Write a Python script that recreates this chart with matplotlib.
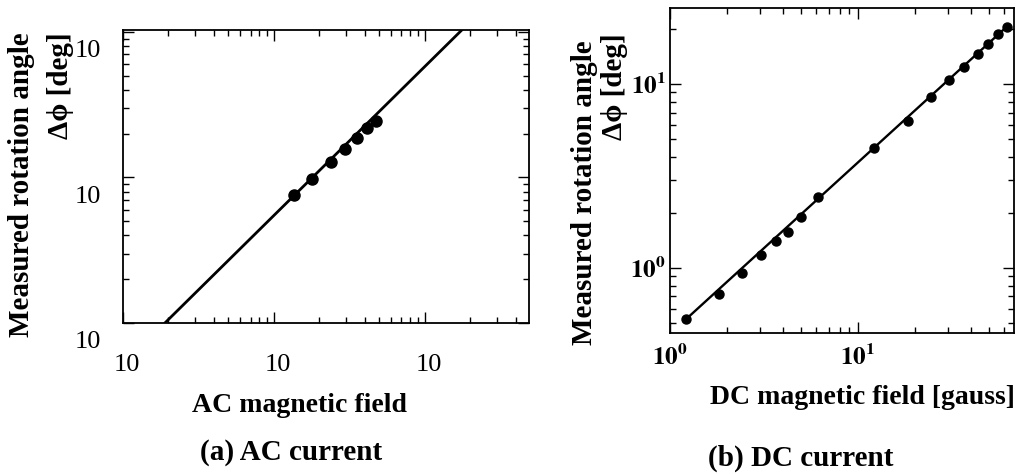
import numpy as np
import matplotlib
matplotlib.use("Agg")
import matplotlib.pyplot as plt
from matplotlib.ticker import FixedLocator, FixedFormatter, LogLocator, NullFormatter
from matplotlib.transforms import ScaledTranslation

plt.rcParams["font.family"] = ["Liberation Serif", "DejaVu Serif"]
plt.rcParams["mathtext.fontset"] = "stix"

# (a) AC current: field vs measured rotation angle
ac_field = [13.6, 17.9, 23.8, 29.5, 35.5, 41.3, 47.4]
ac_angle = [0.0754, 0.0968, 0.127, 0.158, 0.188, 0.220, 0.245]
ac_fit = (0.0052, 1.023)          # y = c * x^p
ac_fit_range = [1.0, 490.0]

# (b) DC current
dc_field = [1.22, 1.82, 2.42, 3.04, 3.65, 4.26, 4.99, 6.15, 12.2, 18.4,
            24.4, 30.6, 36.8, 43.3, 49.3, 55.3, 61.8]
dc_angle = [0.526, 0.722, 0.936, 1.18, 1.41, 1.56, 1.89, 2.42, 4.47, 6.29,
            8.50, 10.5, 12.4, 14.5, 16.6, 18.6, 20.5]
dc_fit = (0.4385, 0.932)
dc_fit_range = [1.2, 63.0]

W, H = 1023, 474
fig = plt.figure(figsize=(W / 100, H / 100), dpi=100)
fig.patch.set_facecolor("white")


def fx(px):
    return px / W


def fy(py):
    return 1 - py / H


def style_axes(ax):
    ax.tick_params(which="both", direction="in", top=True, right=True, width=1.0)
    ax.tick_params(which="major", length=8)
    ax.tick_params(which="minor", length=4.5)
    for s in ax.spines.values():
        s.set_linewidth(1.3)


def shift_labels(labels, dx, dy):
    for lab in labels:
        lab.set_transform(lab.get_transform() + ScaledTranslation(dx / 100, dy / 100, fig.dpi_scale_trans))


# ---------- panel (a) ----------
axa = fig.add_axes([fx(123), fy(323), fx(529 - 123), (323 - 30) / H])
axa.set_xscale("log")
axa.set_yscale("log")
axa.set_xlim(1, 490)
axa.set_ylim(0.01, 1.03)

xl = np.logspace(np.log10(ac_fit_range[0]), np.log10(ac_fit_range[1]), 50)
axa.plot(xl, ac_fit[0] * xl ** ac_fit[1], color="black", lw=2.0)
axa.plot(ac_field, ac_angle, "o", color="black", ms=8)

axa.xaxis.set_major_locator(FixedLocator([1, 10, 100]))
axa.xaxis.set_major_formatter(FixedFormatter(["10", "10", "10"]))
axa.yaxis.set_major_locator(FixedLocator([0.01, 0.1, 1]))
axa.yaxis.set_major_formatter(FixedFormatter(["10", "10", "10"]))
for a in (axa.xaxis, axa.yaxis):
    a.set_minor_locator(LogLocator(base=10, subs=np.arange(2, 10), numticks=20))
    a.set_minor_formatter(NullFormatter())
style_axes(axa)
axa.tick_params(axis="x", which="major", labelsize=19, pad=22)
axa.tick_params(axis="y", which="major", labelsize=19, pad=16)
shift_labels(axa.get_xticklabels(), 4, 0)
shift_labels(axa.get_yticklabels(), 0, -17)

fig.text(fx(22), fy(32), "Measured rotation angle", rotation=90, ha="center", va="top",
         fontsize=21, fontweight="bold")
fig.text(fx(61), fy(32), "Δϕ [deg]", rotation=90, ha="center", va="top",
         fontsize=21, fontweight="bold")
fig.text(fx(300), fy(405), "AC magnetic field", ha="center", va="center",
         fontsize=20, fontweight="bold")
fig.text(fx(291), fy(453), "(a) AC current", ha="center", va="center",
         fontsize=21, fontweight="bold")

# ---------- panel (b) ----------
axb = fig.add_axes([fx(670), fy(333), fx(1014 - 670), (333 - 8) / H])
axb.set_xscale("log")
axb.set_yscale("log")
axb.set_xlim(1, 67.6)
axb.set_ylim(0.443, 25.9)

xl = np.logspace(np.log10(dc_fit_range[0]), np.log10(dc_fit_range[1]), 50)
axb.plot(xl, dc_fit[0] * xl ** dc_fit[1], color="black", lw=1.7)
axb.plot(dc_field, dc_angle, "o", color="black", ms=6.5)

axb.xaxis.set_major_locator(FixedLocator([1, 10]))
axb.xaxis.set_major_formatter(FixedFormatter([r"$\mathbf{10^{0}}$", r"$\mathbf{10^{1}}$"]))
axb.yaxis.set_major_locator(FixedLocator([1, 10]))
axb.yaxis.set_major_formatter(FixedFormatter([r"$\mathbf{10^{0}}$", r"$\mathbf{10^{1}}$"]))
for a in (axb.xaxis, axb.yaxis):
    a.set_minor_locator(LogLocator(base=10, subs=np.arange(2, 10), numticks=20))
    a.set_minor_formatter(NullFormatter())
style_axes(axb)
axb.tick_params(axis="x", which="major", labelsize=18, pad=8)
axb.tick_params(axis="y", which="major", labelsize=18, pad=3)

fig.text(fx(584), fy(40), "Measured rotation angle", rotation=90, ha="center", va="top",
         fontsize=21, fontweight="bold")
fig.text(fx(614), fy(33), "Δϕ [deg]", rotation=90, ha="center", va="top",
         fontsize=21, fontweight="bold")
fig.text(fx(862), fy(397), "DC magnetic field [gauss]", ha="center", va="center",
         fontsize=20, fontweight="bold")
fig.text(fx(801), fy(458), "(b) DC current", ha="center", va="center",
         fontsize=21, fontweight="bold")

fig.savefig("out.png", dpi=100, facecolor="white")
